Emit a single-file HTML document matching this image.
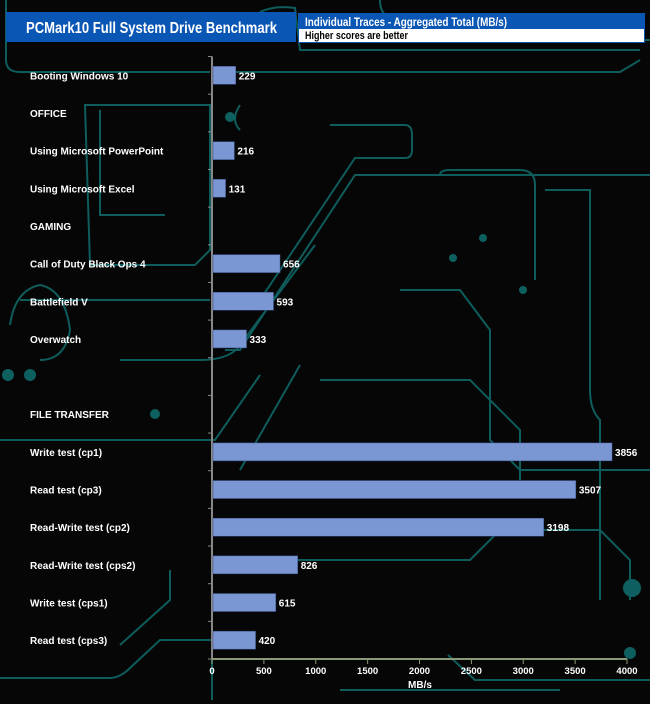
<!DOCTYPE html>
<html><head><meta charset="utf-8"><style>
html,body{margin:0;padding:0;background:#050505;}
svg{display:block;font-family:"Liberation Sans",Arial,sans-serif;}
</style></head><body>
<svg id="c" width="650" height="704" viewBox="0 0 650 704">
<rect width="650" height="704" fill="#060606"/>
<g fill="none" stroke="#0e5c5c" stroke-width="2">
<path d="M6 0 V60 Q6 72 20 72 H210"/>
<path d="M260 12 Q275 5 295 8 L300 50 H640"/>
<path d="M380 0 Q380 20 400 20 L430 40 H650"/>
<path d="M215 72 H620 L640 60"/>
<path d="M85 105 H210 V250 L195 265 H90 Z"/>
<path d="M100 110 V215 H165"/>
<path d="M330 125 H405 Q412 125 412 135 V150 Q412 158 405 158 H355 L260 300 H215"/>
<path d="M240 105 Q230 120 240 130 M225 350 H240 L355 175 H650"/>
<path d="M120 360 H200 Q230 360 240 345 L315 245"/>
<path d="M440 175 Q440 170 450 170 H520 Q535 170 535 185 V280"/>
<path d="M545 190 H590 V390 Q590 410 600 420 V600"/>
<path d="M400 290 H460 L490 330 V440 L520 470 H650"/>
<path d="M0 440 H215 L260 375 M240 470 L300 365"/>
<path d="M320 380 H470 L520 430 V480"/>
<path d="M0 678 H110 Q120 678 130 668 L160 640 H212"/>
<path d="M340 690 H560 M120 645 L170 600 V570"/>
<path d="M448 655 L475 680 H650"/>
<path d="M212 560 H470 L500 530 H600 L630 560 V600"/>
<path d="M212 700 V640"/>
<path d="M10 325 Q15 290 40 285 Q65 290 70 330 Q65 360 40 360"/>
<path d="M20 300 H210"/>
</g>
<g fill="#0e6060">
<circle cx="483" cy="238" r="4"/><circle cx="453" cy="258" r="4"/><circle cx="523" cy="290" r="4"/>
<circle cx="230" cy="117" r="5"/><circle cx="632" cy="588" r="9"/><circle cx="630" cy="653" r="6"/>
<circle cx="8" cy="375" r="6"/><circle cx="30" cy="375" r="6"/><circle cx="155" cy="414" r="5"/>
</g>
<rect x="6" y="12" width="290" height="30" fill="#0a56b4"/>
<text x="26" y="33" font-size="16" font-weight="bold" fill="#fff" textLength="251" lengthAdjust="spacingAndGlyphs">PCMark10 Full System Drive Benchmark</text>
<rect x="298.5" y="13.5" width="346" height="29" fill="#fff" stroke="#0a56b4"/>
<rect x="298" y="13" width="347" height="16" fill="#0a56b4"/>
<text x="305" y="26" font-size="12" font-weight="bold" fill="#fff" textLength="202" lengthAdjust="spacingAndGlyphs">Individual Traces - Aggregated Total (MB/s)</text>
<text x="305" y="39" font-size="11" font-weight="bold" fill="#000" textLength="103" lengthAdjust="spacingAndGlyphs">Higher scores are better</text>
<g id="plot"></g>
</svg>
<script>
const categories=["Booting Windows 10","OFFICE","Using Microsoft PowerPoint","Using Microsoft Excel","GAMING","Call of Duty Black Ops 4","Battlefield V","Overwatch","","FILE TRANSFER","Write test (cp1)","Read test (cp3)","Read-Write test (cp2)","Read-Write test (cps2)","Write test (cps1)","Read test (cps3)"];
const values=[229,null,216,131,null,656,593,333,null,null,3856,3507,3198,826,615,420];
const xTicks=[0,500,1000,1500,2000,2500,3000,3500,4000];
const NS="http://www.w3.org/2000/svg";
const g=document.getElementById('plot');
const x0=212,x1=627,xMax=4000,yTop=56.5,yBot=659;
const band=(yBot-yTop)/categories.length;
const xs=v=>x0+(v/xMax)*(x1-x0);
const yc=i=>yTop+band*(i+0.5);
function el(t,a){const e=document.createElementNS(NS,t);for(const k in a)e.setAttribute(k,a[k]);g.appendChild(e);return e;}
let ya=el('line',{x1:x0,y1:yTop,x2:x0,y2:yBot,stroke:'#888','stroke-width':2});


for(let i=0;i<=categories.length;i++){const t=el('line',{x1:x0-4,x2:x0,y1:yTop+band*i,y2:yTop+band*i,stroke:'#888','stroke-width':1});

}
categories.forEach((c,i)=>{
 if(c){const t=el('text',{x:30,y:yc(i)+4,'font-size':10,'font-weight':'bold',fill:'#fff'});t.textContent=c;
 
 }
 const v=values[i];
 if(v!=null){const b=el('rect',{x:x0+1,y:yc(i)-9,width:xs(v)-x0-1,height:18,fill:'#7a97d4',stroke:'#3a4f88','stroke-width':0.5});
 
 
 const l=el('text',{x:xs(v)+3,y:yc(i)+4,'font-size':10,'font-weight':'bold',fill:'#fff'});l.textContent=v;
 
 }
});
let xa=el('line',{x1:x0,y1:yBot,x2:x1,y2:yBot,stroke:'#8a9a78','stroke-width':2});


xTicks.forEach(v=>{const t=el('line',{x1:xs(v),x2:xs(v),y1:yBot,y2:yBot+5,stroke:'#8a9a78','stroke-width':1});


const l=el('text',{x:xs(v),y:674,'text-anchor':'middle','font-size':9.5,'font-weight':'bold',fill:'#fff'});l.textContent=v;

});
const xt=el('text',{x:420,y:688,'text-anchor':'middle','font-size':10,'font-weight':'bold',fill:'#fff'});xt.textContent='MB/s';


</script>
</body></html>
